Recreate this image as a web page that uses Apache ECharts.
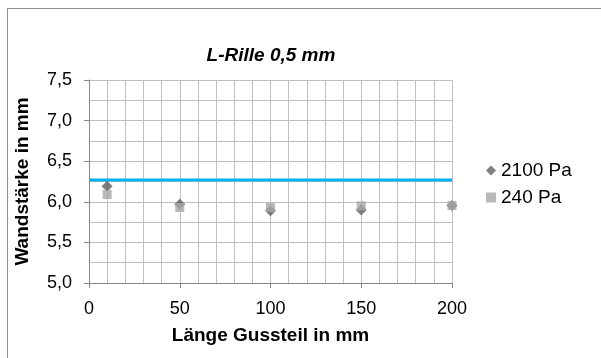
<!DOCTYPE html>
<html>
<head>
<meta charset="utf-8">
<script src="https://cdn.jsdelivr.net/npm/echarts@6/dist/echarts.min.js"></script>
<style>
  html, body { margin: 0; padding: 0; background: #fff; }
  #chart { width: 601px; height: 358px; }
</style>
</head>
<body>
<div id="chart"></div>
<script>
// Wall thickness along the casting, L-groove 0.5 mm
const positions = [10, 50, 100, 150, 200];          // Länge Gussteil in mm
const wall2100 = [6.19, 5.97, 5.89, 5.90, 5.955];   // 2100 Pa
const wall240  = [6.09, 5.93, 5.93, 5.95, 5.955];   // 240 Pa
const nominalWall = 6.27;                            // reference line
const nominalSpan = [0, 200];

const chart = echarts.init(document.getElementById('chart'), null, { renderer: 'canvas' });
const font = 'Liberation Sans, Arial, sans-serif';
const gridColor = '#bfbfbf';
const axisColor = '#868686';

chart.setOption({
  animation: false,
  backgroundColor: '#ffffff',
  graphic: [{
    type: 'rect',
    shape: { x: 7.5, y: 8.5, width: 700, height: 400 },
    style: { fill: 'none', stroke: '#8c8c8c', lineWidth: 1 },
    silent: true
  }],
  title: {
    text: 'L-Rille 0,5 mm',
    left: 266, top: 41, textAlign: 'center',
    textStyle: { fontFamily: font, fontSize: 19, fontWeight: 'bold', fontStyle: 'italic', color: '#000' }
  },
  legend: {
    orient: 'vertical',
    left: 481, top: 156,
    itemGap: 8,
    itemWidth: 10, itemHeight: 10,
    textStyle: { fontFamily: font, fontSize: 19, color: '#000' },
    data: [
      { name: '2100 Pa', icon: 'diamond' },
      { name: '240 Pa', icon: 'rect' }
    ]
  },
  grid: { left: 89, top: 80, width: 363, height: 203, containLabel: false },
  xAxis: {
    type: 'value', min: 0, max: 200, interval: 50,
    name: 'Länge Gussteil in mm', nameLocation: 'middle', nameGap: 43,
    nameTextStyle: { fontFamily: font, fontSize: 19, fontWeight: 'bold', color: '#000' },
    axisLine: { show: true, onZero: false, lineStyle: { color: axisColor } },
    axisTick: { show: true, length: 5, lineStyle: { color: axisColor } },
    axisLabel: { fontFamily: font, fontSize: 18, color: '#000', margin: 17 },
    splitLine: { show: true, lineStyle: { color: gridColor } },
    minorTick: { show: false, splitNumber: 5 },
    minorSplitLine: { show: true, lineStyle: { color: gridColor } }
  },
  yAxis: {
    type: 'value', min: 5.0, max: 7.5, interval: 0.5,
    name: 'Wandstärke in mm', nameLocation: 'middle', nameGap: 57, nameRotate: 90,
    nameTextStyle: { fontFamily: font, fontSize: 19, fontWeight: 'bold', color: '#000' },
    axisLine: { show: true, lineStyle: { color: axisColor } },
    axisTick: { show: true, length: 5, lineStyle: { color: axisColor } },
    axisLabel: {
      fontFamily: font, fontSize: 18, color: '#000', margin: 17,
      formatter: v => v.toFixed(1).replace('.', ',')
    },
    splitLine: { show: true, lineStyle: { color: gridColor } },
    minorTick: { show: false, splitNumber: 2 },
    minorSplitLine: { show: true, lineStyle: { color: gridColor } }
  },
  series: [
    {
      name: 'nominal',
      type: 'line',
      data: nominalSpan.map(x => [x, nominalWall]),
      showSymbol: false,
      lineStyle: { color: '#00b0f0', width: 3 },
      silent: true,
      z: 2
    },
    {
      name: '2100 Pa',
      type: 'scatter',
      symbol: 'diamond',
      symbolSize: 11,
      itemStyle: { color: '#5f5f5f' },
      data: positions.map((x, i) => [x, wall2100[i]]),
      z: 3
    },
    {
      name: '240 Pa',
      type: 'scatter',
      symbol: 'rect',
      symbolSize: 9,
      itemStyle: { color: '#a8a8a8' },
      data: positions.map((x, i) => [x, wall240[i]]),
      z: 4
    }
  ]
});
</script>
</body>
</html>
